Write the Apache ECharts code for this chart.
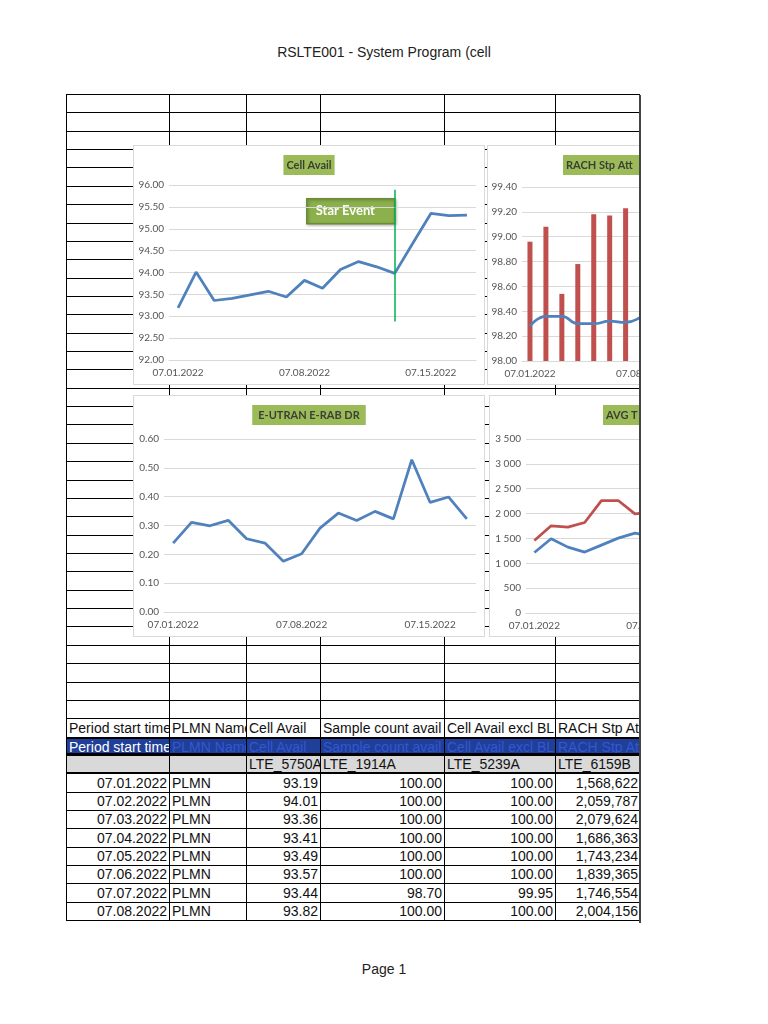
<!DOCTYPE html>
<html>
<head>
<meta charset="utf-8">
<title>RSLTE001 - System Program (cell</title>
<script src="https://cdn.jsdelivr.net/npm/echarts/dist/echarts.min.js"></script>
<style>
  html, body { margin: 0; padding: 0; background: #fff; }
  #page { position: relative; width: 768px; height: 1024px; overflow: hidden; font-family: 'Liberation Sans', Arial, sans-serif; }
  .cap { position: absolute; left: 0; width: 768px; text-align: center; font-size: 14px; color: #222; }
  .cell { position: absolute; box-sizing: border-box; border-right: 1px solid #000; border-bottom: 1px solid #000;
          font-size: 14px; color: #111; white-space: nowrap; overflow: hidden; padding: 0 2px; }
  .frame { position: absolute; box-sizing: border-box; border: 1px solid #d9d9d9; background: #fff; overflow: hidden; z-index: 2; }
  .chart { position: absolute; left: 0; top: 0; }
</style>
</head>
<body>
<div id="page">
  <div class="cap" style="top:44px">RSLTE001 - System Program (cell</div>
  <div id="grid"></div>
  <div class="frame" style="left:133px;top:145px;width:352px;height:240px"><div id="c1" class="chart" style="width:350px;height:238px"></div></div>
  <div class="frame" style="left:487px;top:145px;width:160px;height:240px"><div id="c2" class="chart" style="width:314px;height:238px"></div></div>
  <div class="frame" style="left:133px;top:395px;width:352px;height:242px"><div id="c3" class="chart" style="width:350px;height:240px"></div></div>
  <div class="frame" style="left:489px;top:395px;width:160px;height:242px"><div id="c4" class="chart" style="width:330px;height:240px"></div></div>
  <div style="position:absolute;left:640px;top:0;width:128px;height:1024px;background:#fff;z-index:3"></div>
  <div style="position:absolute;left:639px;top:95px;width:2px;height:828px;background:#444;z-index:4"></div>
  <div class="cap" style="top:961px">Page 1</div>
</div>
<script>
// 日期（图表横轴）
const days = ['07.01.2022', '07.02.2022', '07.03.2022', '07.04.2022', '07.05.2022', '07.06.2022',
  '07.07.2022', '07.08.2022', '07.09.2022', '07.10.2022', '07.11.2022', '07.12.2022',
  '07.13.2022', '07.14.2022', '07.15.2022', '07.16.2022', '07.17.2022']
const eventDay = '07.13.2022'

// Cell Avail
const cellAvail = [93.19, 94.01, 93.36, 93.41, 93.49, 93.57, 93.44, 93.82, 93.64,
  94.07, 94.25, 94.13, 93.98, 94.67, 95.35, 95.30, 95.31]
// RACH Stp Att (只看得到前几天)
const rachBars = [98.96, 99.08, 98.54, 98.78, 99.18, 99.17, 99.23]
const rachLine = [98.28, 98.36, 98.36, 98.30, 98.30, 98.32, 98.31, 98.36]
// E-UTRAN E-RAB DR
const erabDr = [0.239, 0.311, 0.299, 0.318, 0.254, 0.239, 0.176, 0.202, 0.291,
  0.343, 0.317, 0.349, 0.323, 0.528, 0.380, 0.399, 0.323]
// AVG T...
const avgRed = [1459, 1754, 1727, 1821, 2262, 2262, 1995, 2028]
const avgBlue = [1218, 1493, 1325, 1225, 1365, 1506, 1606, 1540]

// 表格
const headers = ['Period start time', 'PLMN Name', 'Cell Avail', 'Sample count avail', 'Cell Avail excl BL', 'RACH Stp Att']
const codes = ['', '', 'LTE_5750A', 'LTE_1914A', 'LTE_5239A', 'LTE_6159B']
const periods = ['07.01.2022', '07.02.2022', '07.03.2022', '07.04.2022', '07.05.2022', '07.06.2022', '07.07.2022', '07.08.2022']
const plmn = ['PLMN', 'PLMN', 'PLMN', 'PLMN', 'PLMN', 'PLMN', 'PLMN', 'PLMN']
const cellAvailTbl = [93.19, 94.01, 93.36, 93.41, 93.49, 93.57, 93.44, 93.82]
const sampleCount = [100, 100, 100, 100, 100, 100, 98.70, 100]
const cellAvailExcl = [100, 100, 100, 100, 100, 100, 99.95, 100]
const rachStpAtt = [1568622, 2059787, 2079624, 1686363, 1743234, 1839365, 1746554, 2004156]

const colX = [67, 170, 247, 321, 445, 556, 641]
const ROWS = 45
const rowY = []
for (let r = 0; r <= ROWS; r++) rowY.push(Math.round(95 + r * 18.36))

// 画网格
const grid = document.getElementById('grid')
grid.style.cssText = 'position:absolute;left:' + (colX[0] - 1) + 'px;top:' + (rowY[0] - 1) + 'px;width:' +
  (colX[6] - colX[0] + 1) + 'px;height:' + (rowY[ROWS] - rowY[0] + 1) + 'px;border-left:1px solid #000;border-top:1px solid #000;box-sizing:border-box'
const page = document.getElementById('page')

function cell(r, c, text, align, extra) {
  const d = document.createElement('div')
  d.className = 'cell'
  const h = rowY[r + 1] - rowY[r]
  d.style.left = colX[c] + 'px'
  d.style.top = rowY[r] + 'px'
  d.style.width = (colX[c + 1] - colX[c]) + 'px'
  d.style.height = h + 'px'
  d.style.lineHeight = (h - 1) + 'px'
  d.style.textAlign = align || 'left'
  if (extra) Object.assign(d.style, extra)
  d.textContent = text || ''
  page.appendChild(d)
}

const fmt2 = v => v.toFixed(2)
for (let r = 0; r < ROWS; r++) {
  for (let c = 0; c < 6; c++) {
    if (r === 34) {
      cell(r, c, headers[c])
    } else if (r === 35) {
      cell(r, c, headers[c], 'left', { background: '#1f3f99', color: c === 0 ? '#fff' : '#3457d0', borderBottom: '3px solid #000', borderTop: '1px solid #000' })
    } else if (r === 36) {
      cell(r, c, codes[c], 'left', { background: '#d9d9d9', borderBottom: '2px solid #000' })
    } else if (r > 36) {
      const i = r - 37
      const vals = [periods[i], plmn[i], fmt2(cellAvailTbl[i]), fmt2(sampleCount[i]), fmt2(cellAvailExcl[i]), rachStpAtt[i].toLocaleString('en-US')]
      cell(r, c, vals[c], c === 1 ? 'left' : 'right')
    } else {
      cell(r, c, '')
    }
  }
}

// 图表公共配置
const FONT = 'Lato'
const GRAY = '#555'
const LINE = '#d9d9d9'

function title(text, left, padRight) {
  return {
    text,
    left,
    top: 9,
    backgroundColor: '#9bbb59',
    padding: [4, padRight || 3, 4, 3],
    textStyle: { color: '#3b3f35', fontSize: 11, fontWeight: 'bold', fontFamily: FONT, lineHeight: 12 }
  }
}

function dateAxis() {
  return {
    type: 'category',
    data: days,
    axisLine: { lineStyle: { color: LINE } },
    axisTick: { interval: 6, length: 4, lineStyle: { color: LINE } },
    axisLabel: { interval: 6, color: GRAY, fontSize: 10, fontFamily: FONT, margin: 8 }
  }
}

function valueAxis(min, max, interval, formatter) {
  return {
    type: 'value',
    min,
    max,
    interval,
    axisLine: { show: false },
    axisTick: { show: false },
    splitLine: { lineStyle: { color: LINE } },
    axisLabel: { formatter, color: GRAY, fontSize: 10, fontFamily: FONT, margin: 5 }
  }
}

function eventLine(top, bottom) {
  return {
    symbol: 'none',
    silent: true,
    label: { show: false },
    lineStyle: { color: '#00b050', width: 1.5, type: 'solid' },
    data: [[{ coord: [eventDay, top] }, { coord: [eventDay, bottom] }]]
  }
}

function lineSeries(data, color, smooth) {
  return { type: 'line', data, smooth: !!smooth, showSymbol: false, lineStyle: { color, width: 2.75 }, itemStyle: { color } }
}

const spaceThousands = v => v >= 1000 ? Math.floor(v / 1000) + ' ' + String(v % 1000).padStart(3, '0') : String(v)

function render(id, option) {
  const chart = echarts.init(document.getElementById(id), null, { renderer: 'canvas' })
  chart.setOption(Object.assign({ animation: false }, option), true)
}

render('c1', {
  title: title('Cell Avail', 'center'),
  grid: { left: 35, right: 8, top: 39, bottom: 24 },
  xAxis: dateAxis(),
  yAxis: valueAxis(92, 96, 0.5, fmt2),
  series: [Object.assign(lineSeries(cellAvail, '#4f81bd'), { markLine: eventLine(95.89, 92.88) })],
  graphic: [{
    type: 'group',
    left: 172,
    top: 52,
    children: [
      { type: 'rect', shape: { width: 88, height: 25 }, style: { fill: '#8cb14c', stroke: '#6a8a34', lineWidth: 1.5, shadowBlur: 3, shadowColor: 'rgba(0,0,0,0.3)', shadowOffsetX: 1, shadowOffsetY: 1 } },
      { type: 'text', x: 9, y: 12.5, style: { text: 'Star Event', fill: '#fff', fontSize: 13, fontWeight: 'bold', fontFamily: FONT, verticalAlign: 'middle' } }
    ]
  }]
})

render('c2', {
  title: title('RACH Stp Att', 75, 60),
  grid: { left: 34, right: 9, top: 41, bottom: 23 },
  xAxis: dateAxis(),
  yAxis: valueAxis(98, 99.4, 0.2, fmt2),
  series: [
    { type: 'bar', data: rachBars, barWidth: 5, itemStyle: { color: '#c0504d' } },
    lineSeries(rachLine, '#4f81bd', true)
  ]
})

render('c3', {
  title: Object.assign(title('E-UTRAN E-RAB DR', 'center'), { padding: [4, 6, 4, 6] }),
  grid: { left: 30, right: 8, top: 43, bottom: 24 },
  xAxis: dateAxis(),
  yAxis: valueAxis(0, 0.6, 0.1, fmt2),
  series: [Object.assign(lineSeries(erabDr, '#4f81bd'), { markLine: eventLine(0.61, 0.17) })]
})

render('c4', {
  title: title('AVG T', 113, 60),
  grid: { left: 36, right: 9, top: 43, bottom: 23 },
  xAxis: dateAxis(),
  yAxis: valueAxis(0, 3500, 500, spaceThousands),
  series: [
    lineSeries(avgRed, '#c0504d'),
    lineSeries(avgBlue, '#4f81bd')
  ]
})
</script>
</body>
</html>
